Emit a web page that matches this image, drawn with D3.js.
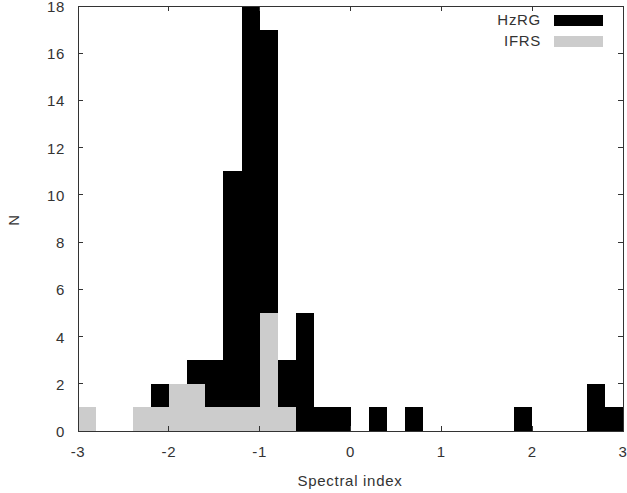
<!DOCTYPE html>
<html><head><meta charset="utf-8">
<script src="https://cdn.jsdelivr.net/npm/d3@7"></script>
<style>body{margin:0;background:#fff}text{font-family:"Liberation Sans",Arial,sans-serif;fill:#333;letter-spacing:0.7px}</style>
</head><body><svg id="c" width="627" height="493"></svg>
<script>
const binStarts = [-3.0,-2.8,-2.6,-2.4,-2.2,-2.0,-1.8,-1.6,-1.4,-1.2,-1.0,-0.8,-0.6,-0.4,-0.2,0.0,0.2,0.4,0.6,0.8,1.0,1.2,1.4,1.6,1.8,2.0,2.2,2.4,2.6,2.8];
const binWidth = 0.2;
const hzrg = [0,0,0,0,2,0,3,3,11,18,17,3,5,1,1,0,1,0,1,0,0,0,0,0,1,0,0,0,2,1];
const ifrs = [1,0,0,1,1,2,2,1,1,1,5,1,0,0,0,0,0,0,0,0,0,0,0,0,0,0,0,0,0,0];
const xTicks = [-3,-2,-1,0,1,2,3];
const yTicks = [0,2,4,6,8,10,12,14,16,18];
const seriesNames = ["HzRG","IFRS"];
const colors = ["#000000","#cccccc"];

const svg = d3.select("#c");
const L=78, R=623, T=6, B=431;
const x = d3.scaleLinear().domain([-3,3]).range([L,R]);
const y = d3.scaleLinear().domain([0,18]).range([B,T]);

[hzrg, ifrs].forEach((vals,i)=>{
  svg.append("g").selectAll("rect").data(binStarts.map((s,j)=>({s,v:vals[j]})).filter(d=>d.v>0))
    .enter().append("rect")
    .attr("x",d=>x(d.s)).attr("width",d=>x(d.s+binWidth)-x(d.s))
    .attr("y",d=>y(d.v)).attr("height",d=>y(0)-y(d.v))
    .attr("fill",colors[i]).attr("shape-rendering","crispEdges");
});

const tl=5;
const ax = svg.append("g").attr("stroke","#333").attr("stroke-width",1).attr("shape-rendering","crispEdges");
xTicks.forEach(t=>{
  ax.append("line").attr("x1",x(t)).attr("x2",x(t)).attr("y1",B).attr("y2",B-tl);
  ax.append("line").attr("x1",x(t)).attr("x2",x(t)).attr("y1",T).attr("y2",T+tl);
});
yTicks.forEach(t=>{
  ax.append("line").attr("x1",L).attr("x2",L+tl).attr("y1",y(t)).attr("y2",y(t));
  ax.append("line").attr("x1",R).attr("x2",R-tl).attr("y1",y(t)).attr("y2",y(t));
});
ax.append("rect").attr("x",L).attr("y",T).attr("width",R-L).attr("height",B-T).attr("fill","none");

const fs = 15;
svg.append("g").selectAll("text").data(xTicks).enter().append("text")
  .attr("x",d=>x(d)).attr("y",457).attr("text-anchor","middle").attr("font-size",fs).text(d=>d);
svg.append("g").selectAll("text").data(yTicks).enter().append("text")
  .attr("x",65).attr("y",d=>y(d)+6).attr("text-anchor","end").attr("font-size",fs).text(d=>d);
svg.append("text").attr("x",350).attr("y",486).attr("text-anchor","middle").attr("font-size",fs).text("Spectral index");
svg.append("text").attr("transform","translate(19,220) rotate(-90)").attr("text-anchor","middle").attr("font-size",fs).text("N");

seriesNames.forEach((n,i)=>{
  const cy = 19.5 + i*21;
  svg.append("text").attr("x",541).attr("y",cy+5.5).attr("text-anchor","end").attr("font-size",fs).text(n);
  svg.append("rect").attr("x",554).attr("y",cy-5).attr("width",49).attr("height",11).attr("fill",colors[i]).attr("shape-rendering","crispEdges");
});
</script></body></html>
